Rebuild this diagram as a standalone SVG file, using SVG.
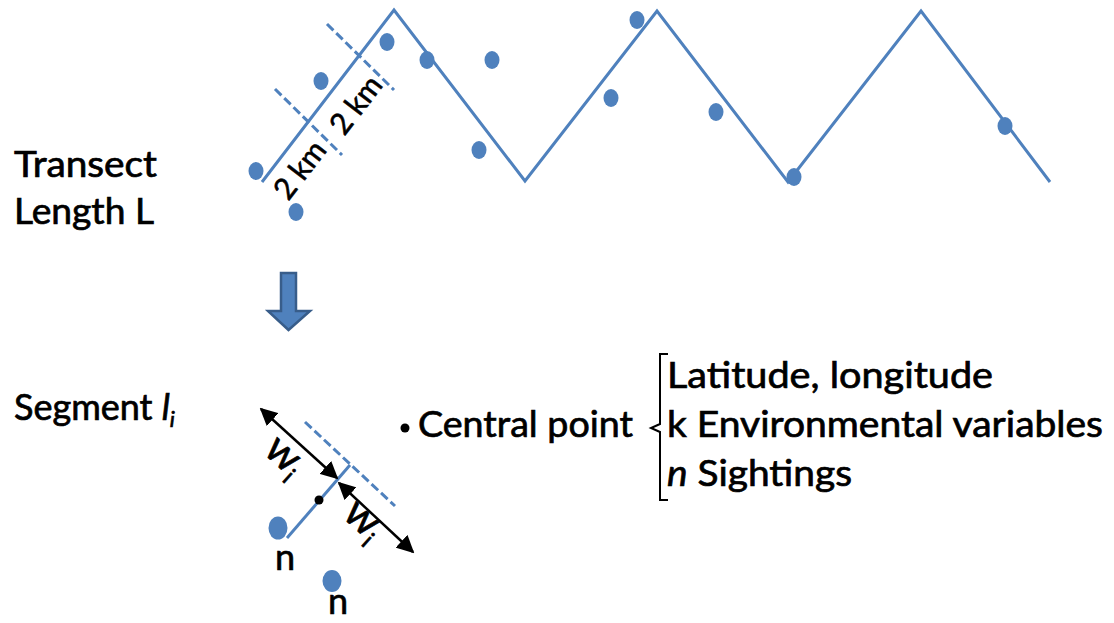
<svg xmlns="http://www.w3.org/2000/svg" width="1114" height="623" viewBox="0 0 1114 623">
<style>
.t{font-family:Lato,"Liberation Sans",sans-serif;font-size:36px;fill:#000;stroke:#000;stroke-width:0.7}
.w{font-family:Lato,"Liberation Sans",sans-serif;font-size:42px;fill:#000;stroke:#000;stroke-width:0.7}
.s{font-family:Lato,"Liberation Sans",sans-serif;font-size:30px;fill:#000;stroke:#000;stroke-width:0.6}
.bl{fill:none;stroke:#4f81bd;stroke-width:3}
.ds{fill:none;stroke:#4f81bd;stroke-width:3;stroke-dasharray:9 4}
.dot{fill:#4f81bd}
.ar{fill:none;stroke:#000;stroke-width:2.5}
</style>
<defs>
<marker id="ah" viewBox="0 0 10 10" refX="9" refY="5" markerWidth="7" markerHeight="7" orient="auto-start-reverse" markerUnits="strokeWidth">
<path d="M0,0 L10,5 L0,10 z" fill="#000"/>
</marker>
</defs>
<g id="labels">
<text class="t" x="14" y="177" textLength="143" lengthAdjust="spacingAndGlyphs">Transect</text>
<text class="t" x="14" y="224" textLength="140" lengthAdjust="spacingAndGlyphs">Length L</text>
<text class="t" x="14" y="420">Segment <tspan font-style="italic">l</tspan><tspan font-style="italic" style="font-size:22px" dy="7">i</tspan></text>
</g>
<g id="transect">
<polyline class="bl" points="262,182 394,10 525,181 657,11 788,182 921,11 1050,182"/>
<line class="ds" x1="275" y1="89" x2="342" y2="155"/>
<line class="ds" x1="327" y1="24" x2="394" y2="90"/>
<text class="s" transform="translate(300,170) rotate(-52.5)" text-anchor="middle" y="10">2 km</text>
<text class="s" transform="translate(356,105) rotate(-52.5)" text-anchor="middle" y="10">2 km</text>
</g>
<g id="sightings">
<ellipse class="dot" cx="256" cy="171" rx="7.5" ry="9"/>
<ellipse class="dot" cx="296" cy="212" rx="7.5" ry="9"/>
<ellipse class="dot" cx="321" cy="81" rx="7.5" ry="9"/>
<ellipse class="dot" cx="387" cy="42" rx="7.5" ry="9"/>
<ellipse class="dot" cx="427" cy="60" rx="7.5" ry="9"/>
<ellipse class="dot" cx="492" cy="60" rx="7.5" ry="9"/>
<ellipse class="dot" cx="479" cy="150" rx="7.5" ry="9"/>
<ellipse class="dot" cx="637" cy="20" rx="7.5" ry="9"/>
<ellipse class="dot" cx="611" cy="98" rx="7.5" ry="9"/>
<ellipse class="dot" cx="716" cy="112" rx="7.5" ry="9"/>
<ellipse class="dot" cx="794" cy="177" rx="7.5" ry="9"/>
<ellipse class="dot" cx="1005" cy="126" rx="7.5" ry="9"/>
</g>
<g id="down-arrow">
<path d="M281,273 L296,273 L296,311 L310,311 L288.5,330 L268,311 L281,311 z" fill="#4f81bd" stroke="#385d8a" stroke-width="2.5" stroke-linejoin="miter"/>
</g>
<g id="segment">
<line class="bl" x1="287" y1="538" x2="350" y2="465"/>
<line class="ds" x1="305" y1="422" x2="395" y2="506"/>
<circle cx="319" cy="500" r="4.5" fill="#000"/>
<ellipse class="dot" cx="278" cy="528" rx="9.5" ry="11.5"/>
<ellipse class="dot" cx="332" cy="581" rx="9.5" ry="11"/>
<text class="t" x="285" y="570" text-anchor="middle">n</text>
<text class="t" x="338" y="614" text-anchor="middle">n</text>
</g>
<g id="connectors">
<line class="ar" x1="261" y1="409" x2="337" y2="478" marker-start="url(#ah)" marker-end="url(#ah)"/>
<line class="ar" x1="339" y1="483" x2="413" y2="552" marker-start="url(#ah)" marker-end="url(#ah)"/>
<text class="w" transform="translate(280,455) rotate(42)" x="-15" y="10">w<tspan style="font-size:24px" dy="8">i</tspan></text>
<text class="w" transform="translate(359,519) rotate(42)" x="-15" y="10">w<tspan style="font-size:24px" dy="8">i</tspan></text>
</g>
<g id="central-point">
<circle cx="405" cy="428" r="4.5" fill="#000"/>
<text class="t" x="418" y="437" textLength="215" lengthAdjust="spacingAndGlyphs">Central point</text>
<path d="M668,354 L660,354 L660,424 L651,428 L660,432 L660,500 L668,500" fill="none" stroke="#000" stroke-width="2"/>
<text class="t" x="667" y="388" textLength="326" lengthAdjust="spacingAndGlyphs">Latitude, longitude</text>
<text class="t" x="667" y="437" textLength="436" lengthAdjust="spacingAndGlyphs">k Environmental variables</text>
<text class="t" x="667" y="486" textLength="185" lengthAdjust="spacingAndGlyphs"><tspan font-style="italic">n</tspan> Sightings</text>
</g>
</svg>
